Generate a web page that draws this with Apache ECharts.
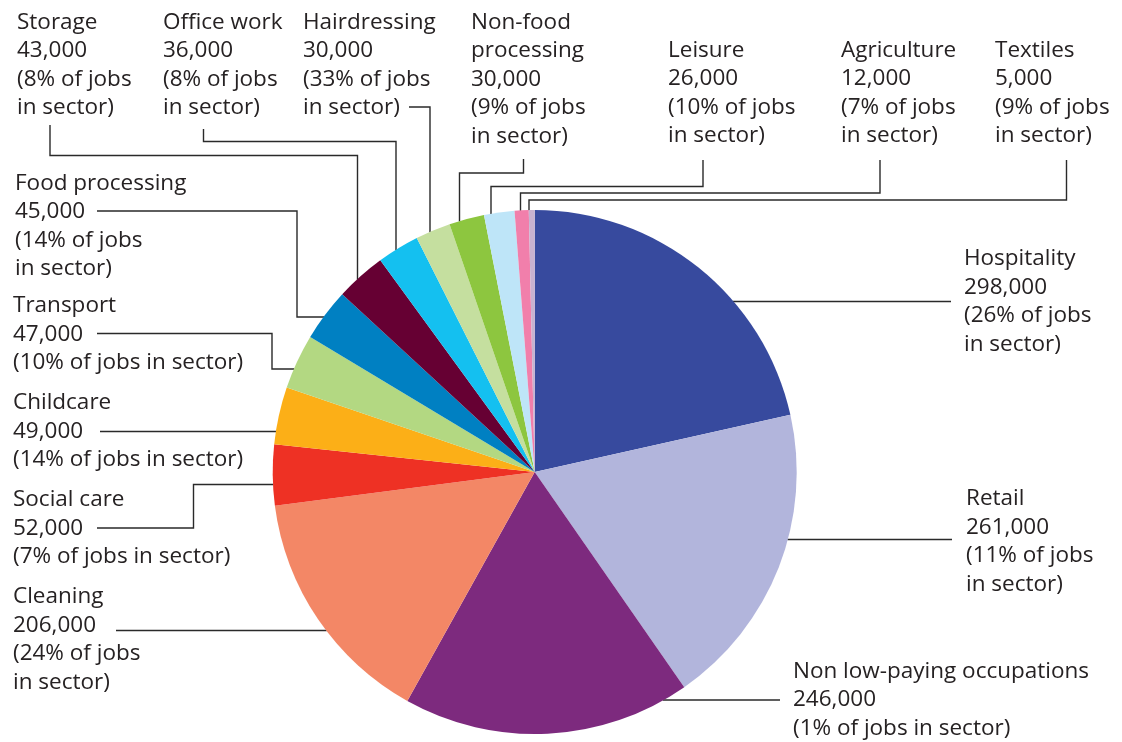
<!DOCTYPE html>
<html>
<head>
<meta charset="utf-8">
<script src="https://cdn.jsdelivr.net/npm/echarts@6/dist/echarts.min.js"></script>
<style>
  html, body { margin: 0; padding: 0; background: #ffffff; }
  #chart { width: 1122px; height: 742px; }
</style>
</head>
<body>
<div id="chart"></div>
<script>
// Low-paid jobs by occupation (clockwise from 12 o'clock)
const sectors = [
  'Hospitality', 'Retail', 'Non low-paying occupations', 'Cleaning', 'Social care',
  'Childcare', 'Transport', 'Food processing', 'Storage', 'Office work',
  'Hairdressing', 'Non-food processing', 'Leisure', 'Agriculture', 'Textiles'
];
const jobs = [
  298000, 261000, 246000, 206000, 52000,
  49000, 47000, 45000, 43000, 36000,
  30000, 30000, 26000, 12000, 5000
];
// Share of all jobs in each sector, per cent
const shareOfSector = [26, 11, 1, 24, 7, 14, 10, 14, 8, 8, 33, 9, 10, 7, 9];

const sliceColors = [
  '#374a9e', '#b2b5dc', '#7d2a7e', '#f38766', '#ee3124',
  '#fcaf17', '#b3d882', '#0080c2', '#660033', '#14c0f0',
  '#c5df9f', '#8dc63f', '#bee5f8', '#f17fab', '#c7b2d0'
];

// Pie geometry (pixels)
const CX = 534.7, CY = 472, R = 262;
const FONT = 22.5, LINE_H = 28.5;

// Label placement: x / y = left edge and first-line centre of the text block.
// path = elbow points of the leader, starting next to the text; the final
// point is projected onto the rim of the pie on the given side.
const labelPlacement = [
  { x: 964, y: 259,   wrap: true,  side: 'right', path: [[951, 301.5]] },                          // Hospitality
  { x: 966, y: 499,   wrap: true,  side: 'right', path: [[952, 539.5]] },                          // Retail
  { x: 793, y: 671.5, wrap: false, side: 'right', path: [[780, 700]] },                            // Non low-paying
  { x: 13,  y: 597,   wrap: true,  side: 'left',  path: [[116, 630.5]] },                          // Cleaning
  { x: 13,  y: 500,   wrap: false, side: 'left',  path: [[97, 528], [193.5, 528], [193.5, 484.5]] }, // Social care
  { x: 13,  y: 403,   wrap: false, side: 'left',  path: [[100, 431.5]] },                          // Childcare
  { x: 13,  y: 306,   wrap: false, side: 'left',  path: [[97, 333.5], [272, 333.5], [272, 369]] },   // Transport
  { x: 15,  y: 183.5, wrap: true,  side: 'left',  path: [[97, 211], [297, 211], [297, 317]] },       // Food processing
  { x: 17,  y: 22.5,  wrap: true,  side: 'top',   path: [[50, 125], [50, 155.5], [357.5, 155.5]] },  // Storage
  { x: 163, y: 22.5,  wrap: true,  side: 'top',   path: [[203.5, 129], [203.5, 141.5], [396, 141.5]] }, // Office work
  { x: 303, y: 22.5,  wrap: true,  side: 'top',   path: [[409, 107], [430, 107]] },                  // Hairdressing
  { x: 471, y: 22.5,  wrap: true,  side: 'top',   nameBreak: true,
    path: [[523.5, 159], [523.5, 173], [459.5, 173]] },                                             // Non-food processing
  { x: 668, y: 50.5,  wrap: true,  side: 'top',   path: [[703, 160], [703, 186.5], [491, 186.5]] },  // Leisure
  { x: 841, y: 50.5,  wrap: true,  side: 'top',   path: [[880, 160], [880, 193], [520.5, 193]] },    // Agriculture
  { x: 995, y: 50.5,  wrap: true,  side: 'top',   path: [[1066.5, 160], [1066.5, 200], [529, 200]] } // Textiles
];

function thousands(n) {
  return String(n).replace(/\B(?=(\d{3})+(?!\d))/g, ',');
}

// Point on the pie rim reached by continuing the last leader segment
function rimPoint(side, p) {
  const rr = R - 0.5;
  if (side === 'top') {
    const dx = p[0] - CX;
    return [p[0], CY - Math.sqrt(rr * rr - dx * dx)];
  }
  const dy = p[1] - CY;
  const dx = Math.sqrt(rr * rr - dy * dy);
  return [side === 'left' ? CX - dx : CX + dx, p[1]];
}

const chart = echarts.init(document.getElementById('chart'), null, { renderer: 'canvas' });

chart.setOption({
  backgroundColor: '#ffffff',
  animation: false,
  series: [{
    type: 'pie',
    center: [CX, CY],
    radius: R,
    startAngle: 90,
    clockwise: true,
    avoidLabelOverlap: false,
    silent: true,
    data: sectors.map((name, i) => ({
      name: name,
      value: jobs[i],
      itemStyle: { color: sliceColors[i] }
    })),
    itemStyle: { borderWidth: 0 },
    label: {
      show: true,
      position: 'outside',
      fontFamily: 'Open Sans',
      fontSize: FONT,
      lineHeight: LINE_H,
      color: '#262223',
      formatter: (p) => {
        const i = p.dataIndex;
        const L = labelPlacement[i];
        const name = L.nameBreak ? sectors[i].replace(' ', '\n') : sectors[i];
        const share = '(' + shareOfSector[i] + '% of jobs' + (L.wrap ? '\n' : ' ') + 'in sector)';
        return name + '\n' + thousands(jobs[i]) + '\n' + share;
      }
    },
    labelLine: {
      show: true,
      smooth: false,
      lineStyle: { color: '#2a2a2a', width: 1.4 }
    },
    labelLayout: (params) => {
      const L = labelPlacement[params.dataIndex];
      const pts = L.path.map(p => p.slice());
      pts.push(rimPoint(L.side, pts[pts.length - 1]));
      return {
        x: L.x,
        y: L.y - LINE_H / 2,
        align: 'left',
        verticalAlign: 'top',
        labelLinePoints: pts
      };
    }
  }]
});
</script>
</body>
</html>
